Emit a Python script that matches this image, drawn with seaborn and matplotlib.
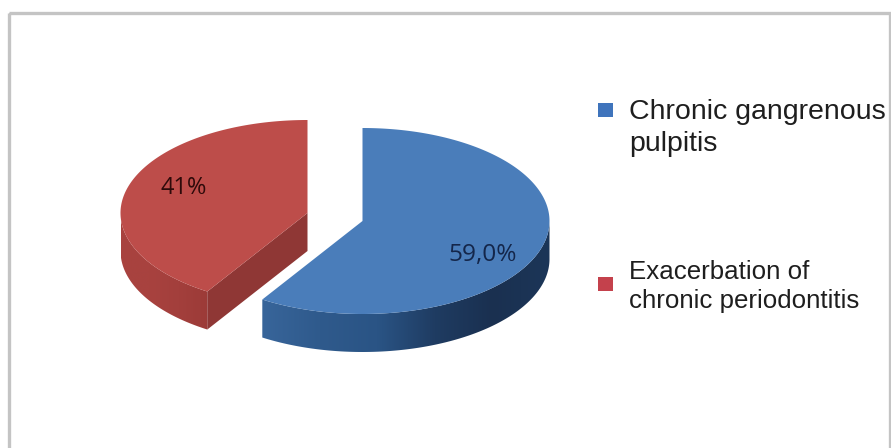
import numpy as np
import matplotlib
matplotlib.use("Agg")
import matplotlib.pyplot as plt
from matplotlib.patches import Polygon, Rectangle
from matplotlib.colors import LinearSegmentedColormap
import seaborn as sns

# data
categories = ["Chronic gangrenous\npulpitis", "Exacerbation of\nchronic periodontitis"]
values = [59.0, 41.0]
labels = ["59,0%", "41%"]
colors = ["#4A7DBA", "#BD4D4A"]
legend_colors = ["#3F74BC", "#C4414C"]
label_colors = ["#14264A", "#2E0A0A"]

sns.set_theme(style="white")
plt.rcParams["font.family"] = ["Liberation Sans", "DejaVu Sans"]

W, H = 891, 448
fig = plt.figure(figsize=(W / 100, H / 100), dpi=100, facecolor="white")
ax = fig.add_axes([0, 0, 1, 1])
ax.set_xlim(0, W)
ax.set_ylim(H, 0)
ax.axis("off")

# frame
ax.add_patch(Rectangle((8.5, 13), 881, 460, fill=False, ec="#C4C4C4", lw=2.4, zorder=1))

RX, RY, DEPTH = 187, 93, 38


def ell(cx, cy, t):
    return cx + RX * np.sin(t), cy - RY * np.cos(t)


def shaded_poly(xs_top, ys_top, cmap, z, depth=DEPTH):
    """Extruded side band, coloured along x with a gradient image."""
    verts = np.r_[np.c_[xs_top, ys_top], np.c_[xs_top[::-1], ys_top[::-1] + depth]]
    poly = Polygon(verts, closed=True, fc="none", ec="none", zorder=z)
    ax.add_patch(poly)
    im = ax.imshow(np.linspace(0, 1, 256)[None, :], cmap=cmap, aspect="auto",
                   extent=(xs_top.min(), xs_top.max(), ys_top.max() + depth, ys_top.min()),
                   zorder=z)
    im.set_clip_path(poly)
    ax.set_xlim(0, W)
    ax.set_ylim(H, 0)


total = sum(values)
blue_sweep = 2 * np.pi * values[0] / total
red_sweep = 2 * np.pi * values[1] / total

blue_cm = LinearSegmentedColormap.from_list(
    "b", ["#38659A", "#2F5A8C", "#2A5485", "#1F3C62", "#1A3050", "#1C3658"])
red_cm = LinearSegmentedColormap.from_list("r", ["#A8433F", "#A8423F", "#A33F3C", "#9C3B38"])

# blue slice: starts at 12 o'clock, clockwise
bx, by = 362.5, 221
t = np.linspace(0, blue_sweep, 240)
x, y = ell(bx, by, t)
vis = t >= np.pi / 2
shaded_poly(x[vis], y[vis], blue_cm, 2)
ax.add_patch(Polygon(np.r_[[[bx, by]], np.c_[x, y]], closed=True, fc=colors[0], ec="none", zorder=4))

# red slice: ends at 12 o'clock, occupying the left side
rx, ry = 307.5, 213
t = np.linspace(blue_sweep, blue_sweep + red_sweep, 200)
x, y = ell(rx, ry, t)
vis = t <= 3 * np.pi / 2
shaded_poly(x[vis], y[vis], red_cm, 2)
# cut face visible from apex to the rim
fx = np.array([x[0], rx, rx, x[0]])
fy = np.array([y[0], ry, ry + DEPTH, y[0] + DEPTH])
ax.add_patch(Polygon(np.c_[fx, fy], closed=True, fc="#8F3735", ec="none", zorder=3))
ax.add_patch(Polygon(np.r_[[[rx, ry]], np.c_[x, y]], closed=True, fc=colors[1], ec="none", zorder=4))

# value labels
for txt, c, lx, ly, fs in zip(labels, label_colors, [483, 184], [255, 188.5], [17.6, 16.9]):
    ax.text(lx, ly, txt, ha="center", va="center", fontsize=fs, color=c,
            family=["Open Sans", "DejaVu Sans"], zorder=6)

# legend
for cat, c, sy, ty, fs, ls in zip(categories, legend_colors, [110.5, 284.5], [128, 286.5],
                                  [20.5, 18.6], [1.3, 1.3]):
    ax.add_patch(Rectangle((598, sy - 7), 15, 14, fc=c, ec="none", zorder=6))
    ax.text(629, ty, cat, ha="left", va="center", fontsize=fs, color="#1E1E1E",
            linespacing=ls, zorder=6)

fig.savefig("out.png", dpi=100, facecolor="white")
